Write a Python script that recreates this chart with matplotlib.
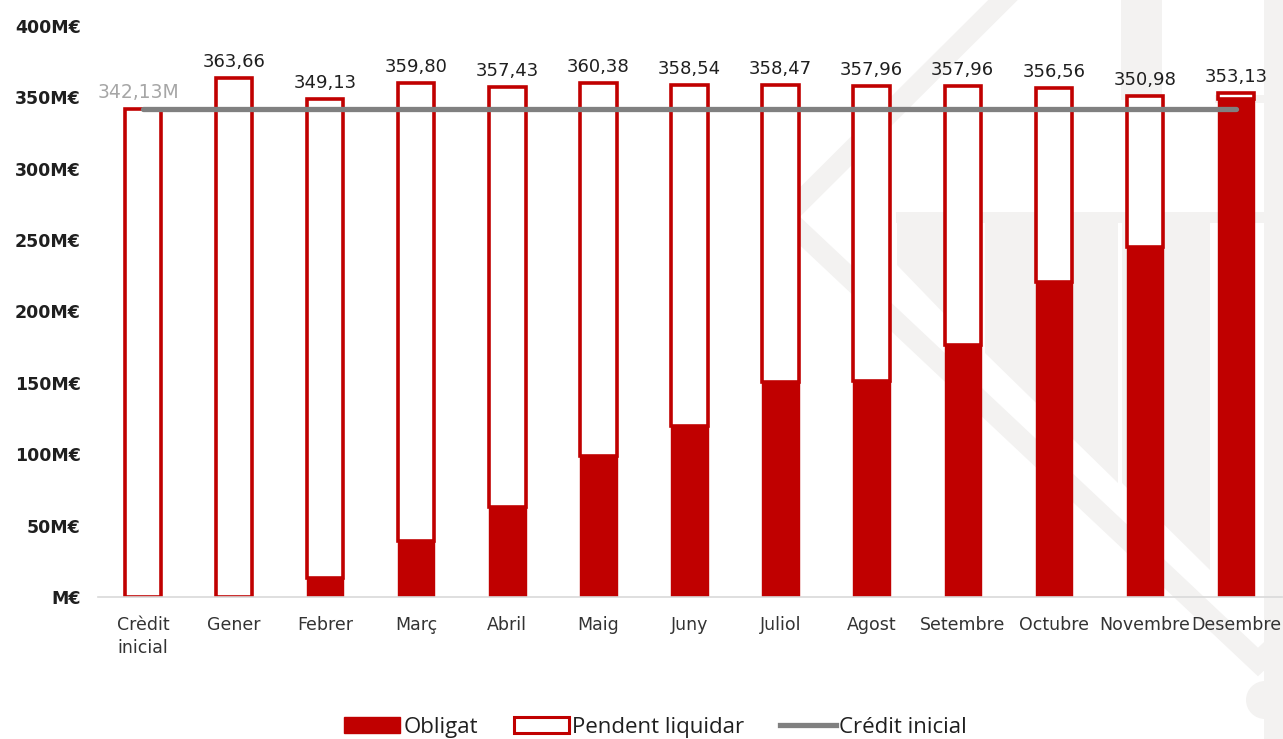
import matplotlib
matplotlib.use("Agg")
import matplotlib.pyplot as plt
from matplotlib.patches import Patch, Ellipse, Polygon
from matplotlib.lines import Line2D
import numpy as np

# ---------------- data ----------------
categories = ["Crèdit\ninicial", "Gener", "Febrer", "Març", "Abril", "Maig", "Juny",
              "Juliol", "Agost", "Setembre", "Octubre", "Novembre", "Desembre"]
totals = [342.13, 363.66, 349.13, 359.80, 357.43, 360.38, 358.54,
          358.47, 357.96, 357.96, 356.56, 350.98, 353.13]
total_labels = ["342,13M", "363,66", "349,13", "359,80", "357,43", "360,38", "358,54",
                "358,47", "357,96", "357,96", "356,56", "350,98", "353,13"]
obligat = [0.0, 0.0, 13.3, 39.4, 62.8, 98.9, 119.7,
           150.6, 151.5, 176.5, 220.8, 245.3, 348.7]
credit_inicial = 342.13
yticks = [0, 50, 100, 150, 200, 250, 300, 350, 400]
ytick_labels = ["M€", "50M€", "100M€", "150M€", "200M€", "250M€", "300M€", "350M€", "400M€"]
legend_labels = ["Obligat", "Pendent liquidar", "Crédit inicial"]

RED = "#c00000"
GRAY = "#808080"
WM = "#f3f2f1"

W, H = 1283, 739
fig = plt.figure(figsize=(W / 100, H / 100), dpi=100)
fig.patch.set_facecolor("white")

# ---------------- faint background watermark (decorative logo) ----------------
def P(pts):
    return [(px / W, 1 - py / H) for px, py in pts]

band = P([(1008, -5), (785, 217), (1258, 662), (1290, 632)])
fig.add_artist(Line2D([p[0] for p in band], [p[1] for p in band],
                      transform=fig.transFigure, color=WM, lw=15,
                      solid_joinstyle="miter", zorder=0))
wm_polys = [
    [(896, 212), (1283, 212), (1283, 223), (896, 223)],            # horizontal band
    [(897, 223), (982, 223), (982, 353), (897, 265)],              # column 1
    [(985, 223), (1118, 223), (1118, 483), (985, 353)],            # column 2
    [(1122, 223), (1210, 223), (1210, 570), (1122, 483)],          # column 3
    [(1121, 0), (1162, 0), (1162, 100), (1121, 100)],              # top column
    [(1215, 95), (1283, 95), (1283, 103), (1215, 103)],
    [(1264, 0), (1283, 0), (1283, 739), (1264, 739)],
]
for pts in wm_polys:
    fig.add_artist(Polygon(P(pts), closed=True, transform=fig.transFigure,
                           facecolor=WM, edgecolor="none", zorder=0))
fig.add_artist(Ellipse((1265 / W, 1 - 700 / H), 38 / W, 38 / H, transform=fig.transFigure,
                       facecolor=WM, edgecolor="none", zorder=0))

# ---------------- axes ----------------
ax = fig.add_axes([97.5 / W, (H - 597) / H, 1184 / W, 571 / H])
ax.set_facecolor("none")

x = np.arange(len(categories))
obl = np.array(obligat)
tot = np.array(totals)
pend = tot - obl
bw = 0.40

ax.bar(x, obl, width=bw, color=RED, edgecolor=RED, linewidth=1.0, zorder=2)
ax.bar(x, pend, width=bw, bottom=obl, color="white", edgecolor=RED, linewidth=2.6, zorder=2)

# Crèdit inicial line
ax.plot([x[0], x[-1]], [credit_inicial, credit_inicial], color=GRAY, lw=3.8,
        solid_capstyle="round", zorder=3)

# labels
for i in range(len(categories)):
    if i == 0:
        ax.annotate(total_labels[i], (x[i], credit_inicial), xytext=(-3, 5),
                    textcoords="offset points", ha="center", va="bottom",
                    fontsize=13.5, color="#a6a6a6", zorder=4)
    else:
        ax.annotate(total_labels[i], (x[i], tot[i]), xytext=(0, 5),
                    textcoords="offset points", ha="center", va="bottom",
                    fontsize=13, color="#1f1f1f", zorder=4)

ax.set_xlim(-0.5, len(categories) - 0.5)
ax.set_ylim(0, 400)
ax.set_yticks(yticks)
ax.set_yticklabels(ytick_labels, fontsize=12.5, fontweight="bold", color="#1f1f1f")
ax.set_xticks(x)
ax.set_xticklabels(categories, fontsize=12.5, color="#333333", linespacing=1.35)
ax.tick_params(axis="y", length=0, pad=12)
ax.tick_params(axis="x", length=0, pad=14)
for s in ["top", "right", "left"]:
    ax.spines[s].set_visible(False)
ax.spines["bottom"].set_color("#d9d9d9")
ax.spines["bottom"].set_linewidth(1.2)

# legend
handles = [
    Patch(facecolor=RED, edgecolor=RED, linewidth=1.0),
    Patch(facecolor="white", edgecolor=RED, linewidth=2.2),
    Line2D([0], [0], color=GRAY, lw=3.8),
]
leg = fig.legend(handles, legend_labels, loc="center", bbox_to_anchor=(0.511, 0.016),
                 ncol=3, frameon=False, prop={"family": "Open Sans", "size": 16},
                 handlelength=2.5, handleheight=0.75, handletextpad=0.15,
                 columnspacing=1.6)
for t in leg.get_texts():
    t.set_color("#1f1f1f")

fig.savefig("out.png", dpi=100, facecolor="white")
